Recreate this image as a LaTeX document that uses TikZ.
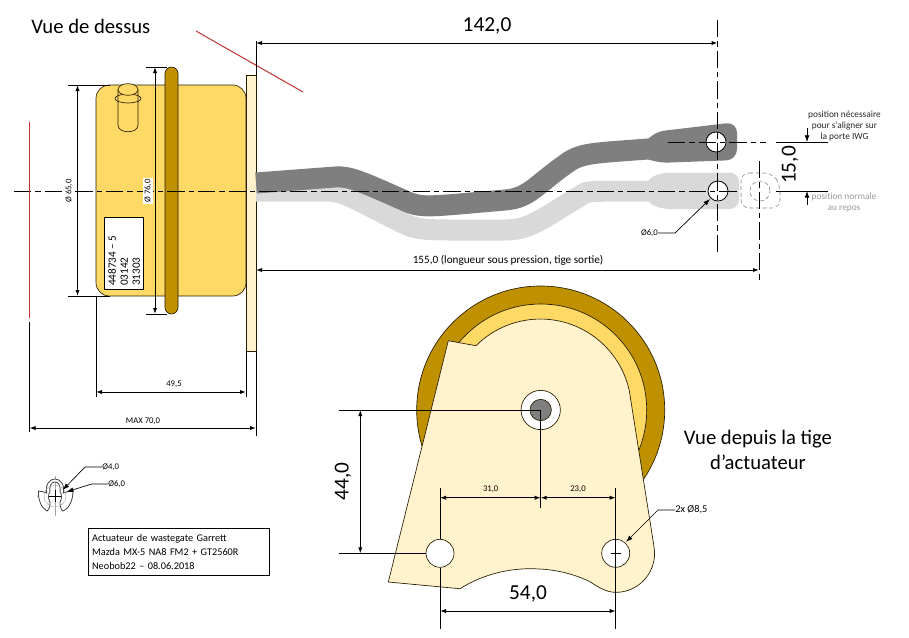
\documentclass[tikz,border=0pt]{standalone}
\usepackage{fontspec}
\setmainfont{Carlito}
\usetikzlibrary{arrows.meta}
\definecolor{bodygold}{RGB}{255,217,102}
\definecolor{ringgold}{RGB}{191,144,0}
\definecolor{platecream}{RGB}{255,242,204}
\definecolor{rodgrey}{RGB}{127,127,127}
\definecolor{restgrey}{RGB}{217,217,217}
\definecolor{redline}{RGB}{192,50,50}
\tikzset{
  dimline/.style={draw=black, line width=.75pt, {Latex[length=4.5pt,width=3.2pt]}-{Latex[length=4.5pt,width=3.2pt]}},
  leader/.style={draw=black, line width=.5pt, -{Latex[length=5pt,width=3.5pt]}},
  extline/.style={draw=black, line width=.75pt},
  axisline/.style={draw=black, line width=.75pt, dash pattern=on 13pt off 3pt on 4pt off 3pt},
  outline/.style={draw=black!80!ringgold, line width=.5pt},
  bigtext/.style={inner sep=0pt, font=\fontsize{16}{16}\selectfont},
  smalltext/.style={inner sep=0pt, font=\fontsize{6.5}{8}\selectfont},
  notetext/.style={inner sep=0pt, align=center, font=\fontsize{7}{8.2}\selectfont}
}
\begin{document}
\begin{tikzpicture}[x=.75pt,y=-.75pt]
  \useasboundingbox (0,0) rectangle (909,637);

  % top view, actuator body
  \filldraw[outline, fill=bodygold, rounded corners=10pt] (96,85) rectangle (246,296);
  \node[draw=black, fill=white, line width=.6pt, minimum width=29.25pt, minimum height=54.5pt, inner sep=0pt] (label_box) at (124,253.5) {};
  \node[rotate=90, inner sep=0pt, anchor=west, align=left, font=\fontsize{8.4}{9}\selectfont] (label_text) at (124,286) {448734 -- 5\\03142\\31303};
  \filldraw[outline, fill=bodygold] (118,90) -- (118,125) .. controls (118,134) and (138,134) .. (138,125) -- (138,90) -- cycle;
  \draw[outline] (128,98.5) ellipse (13 and 4.5);
  \draw[outline, fill=bodygold] (128,89.5) ellipse (10 and 5.8);
  \filldraw[outline, fill=ringgold, rounded corners=5pt] (165,67) rectangle (178,314);
  \filldraw[outline, fill=platecream] (246,75) rectangle (256,351);

  % rods
  \draw[restgrey, line width=15.75pt] (256,191) -- (325,191) .. controls (345,191) and (350,197) .. (405,224) .. controls (420,231) and (430,230) .. (505,230) .. controls (530,230) and (540,220) .. (585,193) .. controls (590,191) and (600,191) .. (660,191);
  \fill[restgrey, rounded corners=7pt] (645,181) -- (660,172.5) -- (739,172.5) -- (739,209) -- (660,209) -- (645,201) -- cycle;
  \draw[rodgrey, line width=15.75pt] (256,183) -- (335,177) .. controls (350,176) and (360,181) .. (410,203) .. controls (425,208) and (435,206) .. (505,200) .. controls (530,198) and (535,185) .. (570,161) .. controls (585,152) and (600,153) .. (660,148);
  \fill[rodgrey, rounded corners=8pt] (640,150) -- (653,132) -- (737,122) -- (737,160) -- (657,163) -- (640,156) -- cycle;
  \node[circle, draw=black, fill=white, line width=.6pt, minimum size=15pt, inner sep=0pt] (eye_up) at (716,142) {};
  \node[circle, draw=black, fill=white, line width=.6pt, minimum size=15pt, inner sep=0pt] (eye_rest) at (718,191) {};
  \draw[black!50, densely dashed, line width=.4pt, rounded corners=6pt] (741,173) -- (772,173) -- (780,184) -- (780,208) -- (741,208) -- cycle;
  \node[circle, draw=black!50, densely dashed, line width=.4pt, minimum size=15pt, inner sep=0pt] (eye_ghost) at (760,191) {};

  % axes
  \draw[axisline] (14,191.5) -- (740,191.5);
  \draw[extline] (776,191) -- (828,191);
  \draw[axisline] (668,142) -- (766,142);
  \draw[extline] (776,142) -- (828,142);
  \draw[axisline] (717.5,20) -- (717.5,254);
  \draw[axisline] (759,161) -- (759,280);
  \draw[redline, line width=.9pt] (29.5,122) -- (29.5,318);
  \draw[redline, line width=.75pt] (196,31) -- (303,92);

  % top view dimensions
  \draw[extline] (68,85) -- (110,85);
  \draw[extline] (68,296) -- (110,296);
  \draw[dimline] (77.5,85) -- (77.5,296);
  \node[rotate=90, smalltext, fill=white, inner sep=1pt] (d_65) at (69,191) {Ø 65,0};
  \draw[extline] (146,67) -- (167,67);
  \draw[extline] (146,314) -- (167,314);
  \draw[dimline] (155,67) -- (155,314);
  \node[rotate=90, smalltext, fill=white, inner sep=1pt] (d_76) at (148,191) {Ø 76,0};

  \draw[extline] (256,41) -- (256,75);
  \draw[extline] (256,351) -- (256,436);
  \draw[extline] (29.5,322) -- (29.5,432);
  \draw[extline] (96,296) -- (96,397);
  \draw[extline] (246,351) -- (246,397);
  \draw[dimline] (256,43) -- (717.5,43);
  \node[bigtext] (d_142) at (487,26) {142,0};
  \draw[dimline] (256,270) -- (759,270);
  \node[inner sep=0pt, font=\fontsize{8.4}{9}\selectfont] (d_155) at (508,260) {155,0 (longueur sous pression, tige sortie)};
  \draw[dimline] (96,392) -- (246,392);
  \node[smalltext] (d_495) at (174,384) {49,5};
  \draw[dimline] (29.5,428) -- (256,428);
  \node[smalltext] (d_70) at (143,421) {MAX 70,0};

  % stroke
  \draw[leader] (807,128) -- (807,142);
  \draw[leader] (807,205) -- (807,191);
  \node[rotate=90, bigtext] (d_15) at (790,165) {15,0};
  \node[notetext, black!85] (note_up) at (844.5,126) {position nécessaire\\pour s’aligner sur\\la porte IWG};
  \node[notetext, black!40] (note_rest) at (844,202.5) {position normale\\au repos};
  \node[smalltext, anchor=east] (d_6) at (658,233) {Ø6,0};
  \coordinate (d_6_bend) at (675,233);
  \draw[leader] (d_6) -- (d_6_bend) -- (710,199);

  % titles
  \node[inner sep=0pt, anchor=west, font=\fontsize{15.5}{16}\selectfont] (title_top) at (31,26) {Vue de dessus};
  \node[inner sep=0pt, align=center, font=\fontsize{15.5}{19}\selectfont] (title_rod) at (758,450) {Vue depuis la tige\\d’actuateur};
  \node[draw=black, line width=.6pt, anchor=north west, minimum width=136pt, minimum height=35.25pt, text width=130pt, inner sep=3pt, align=left, font=\fontsize{7.7}{10.5}\selectfont] (title_box) at (87.7,528) {Actuateur de wastegate Garrett\\Mazda MX-5 NA8 FM2 + GT2560R\\Neobob22 -- 08.06.2018};

  % clip
  \draw[black!35, line width=.3pt] (37,496) -- (73,496);
  \draw[black!35, line width=.3pt] (55,476) -- (55,516);
  \filldraw[draw=black!75, fill=white, line width=.6pt] (47,511) .. controls (41,508) and (38,499) .. (38.5,491) .. controls (41,491) and (44,492) .. (46.7,493) .. controls (45,484) and (50,479) .. (55,479) .. controls (60,479) and (65,484) .. (63.3,493) .. controls (66,492) and (70,491) .. (73,491) .. controls (73,499) and (70,508) .. (63,511) .. controls (60,509) and (60,504) .. (60,502) .. controls (62,499) and (62,494) .. (60,492) .. controls (61,485) and (58,482) .. (55,482) .. controls (52,482) and (49,485) .. (50,492) .. controls (48,494) and (48,499) .. (50,502) .. controls (50,504) and (50,509) .. (47,511) -- cycle;
  \draw[black!35, line width=.3pt] (55,496) circle (11);
  \draw[black, line width=.6pt] (49,496) -- (61,496);
  \draw[black, line width=.6pt] (55,490) -- (55,502);
  \node[smalltext, anchor=west] (d_clip4) at (102,467) {Ø4,0};
  \node[smalltext, anchor=west] (d_clip6) at (108,484) {Ø6,0};
  \coordinate (clip4_bend) at (85,467);
  \coordinate (clip6_bend) at (91.7,484);
  \draw[leader] (d_clip4) -- (clip4_bend) -- (62.7,490);
  \draw[leader] (d_clip6) -- (clip6_bend) -- (66.7,491.7);

  % view from the rod
  \fill[ringgold] (540.7,410) circle (124);
  \draw[outline] (540.7,410) circle (124);
  \filldraw[outline, fill=bodygold] (540.7,410) circle (106);
  \filldraw[outline, fill=platecream] (448.3,340.7) -- (476,345.7) arc[start angle=-135, end angle=-12, radius=91]
    -- (654,546.7) arc[start angle=-10, end angle=90, radius=38.9]
    .. controls (606,592.2) and (598,587) .. (590,581.7) .. controls (570,572) and (550,568.7) .. (530,568.7) .. controls (505,568.7) and (480,576) .. (460,588.7) -- (388.3,582) -- cycle;
  \node[circle, outline, fill=white, minimum size=21pt, inner sep=0pt] (hole_l) at (440,553.3) {};
  \node[circle, outline, fill=white, minimum size=21pt, inner sep=0pt] (hole_r) at (615.7,553.3) {};
  \node[circle, outline, fill=white, minimum size=29.5pt, inner sep=0pt] (hub) at (540.7,410) {};
  \node[circle, outline, fill=rodgrey, minimum size=16pt, inner sep=0pt] (rod_end) at (540.7,410) {};

  \draw[extline] (339,410) -- (rod_end.center);
  \draw[extline] (rod_end.center) -- (540.7,508);
  \draw[extline] (339,553.3) -- (hole_l.west);
  \draw[extline] (440,488) -- (hole_l.north);
  \draw[extline] (hole_l.south) -- (440,629);
  \draw[extline] (615.7,488) -- (615.7,629);
  \draw[extline] (610.7,553.3) -- (620.7,553.3);
  \draw[dimline] (360.3,410) -- (360.3,553.3);
  \node[rotate=90, bigtext] (d_44) at (343,481.7) {44,0};
  \draw[dimline] (440,497.7) -- (540.7,497.7);
  \draw[dimline] (540.7,497.7) -- (615.7,497.7);
  \node[smalltext] (d_31) at (490.7,489) {31,0};
  \node[smalltext] (d_23) at (578,489) {23,0};
  \draw[dimline] (440,611) -- (615.7,611);
  \node[bigtext] (d_54) at (528,594) {54,0};
  \node[inner sep=0pt, anchor=west, font=\fontsize{7.8}{10}\selectfont] (d_85) at (675,510) {2x Ø8,5};
  \coordinate (d_85_bend) at (658,510);
  \draw[leader] (d_85) -- (d_85_bend) -- (626,542);
\end{tikzpicture}
\end{document}
